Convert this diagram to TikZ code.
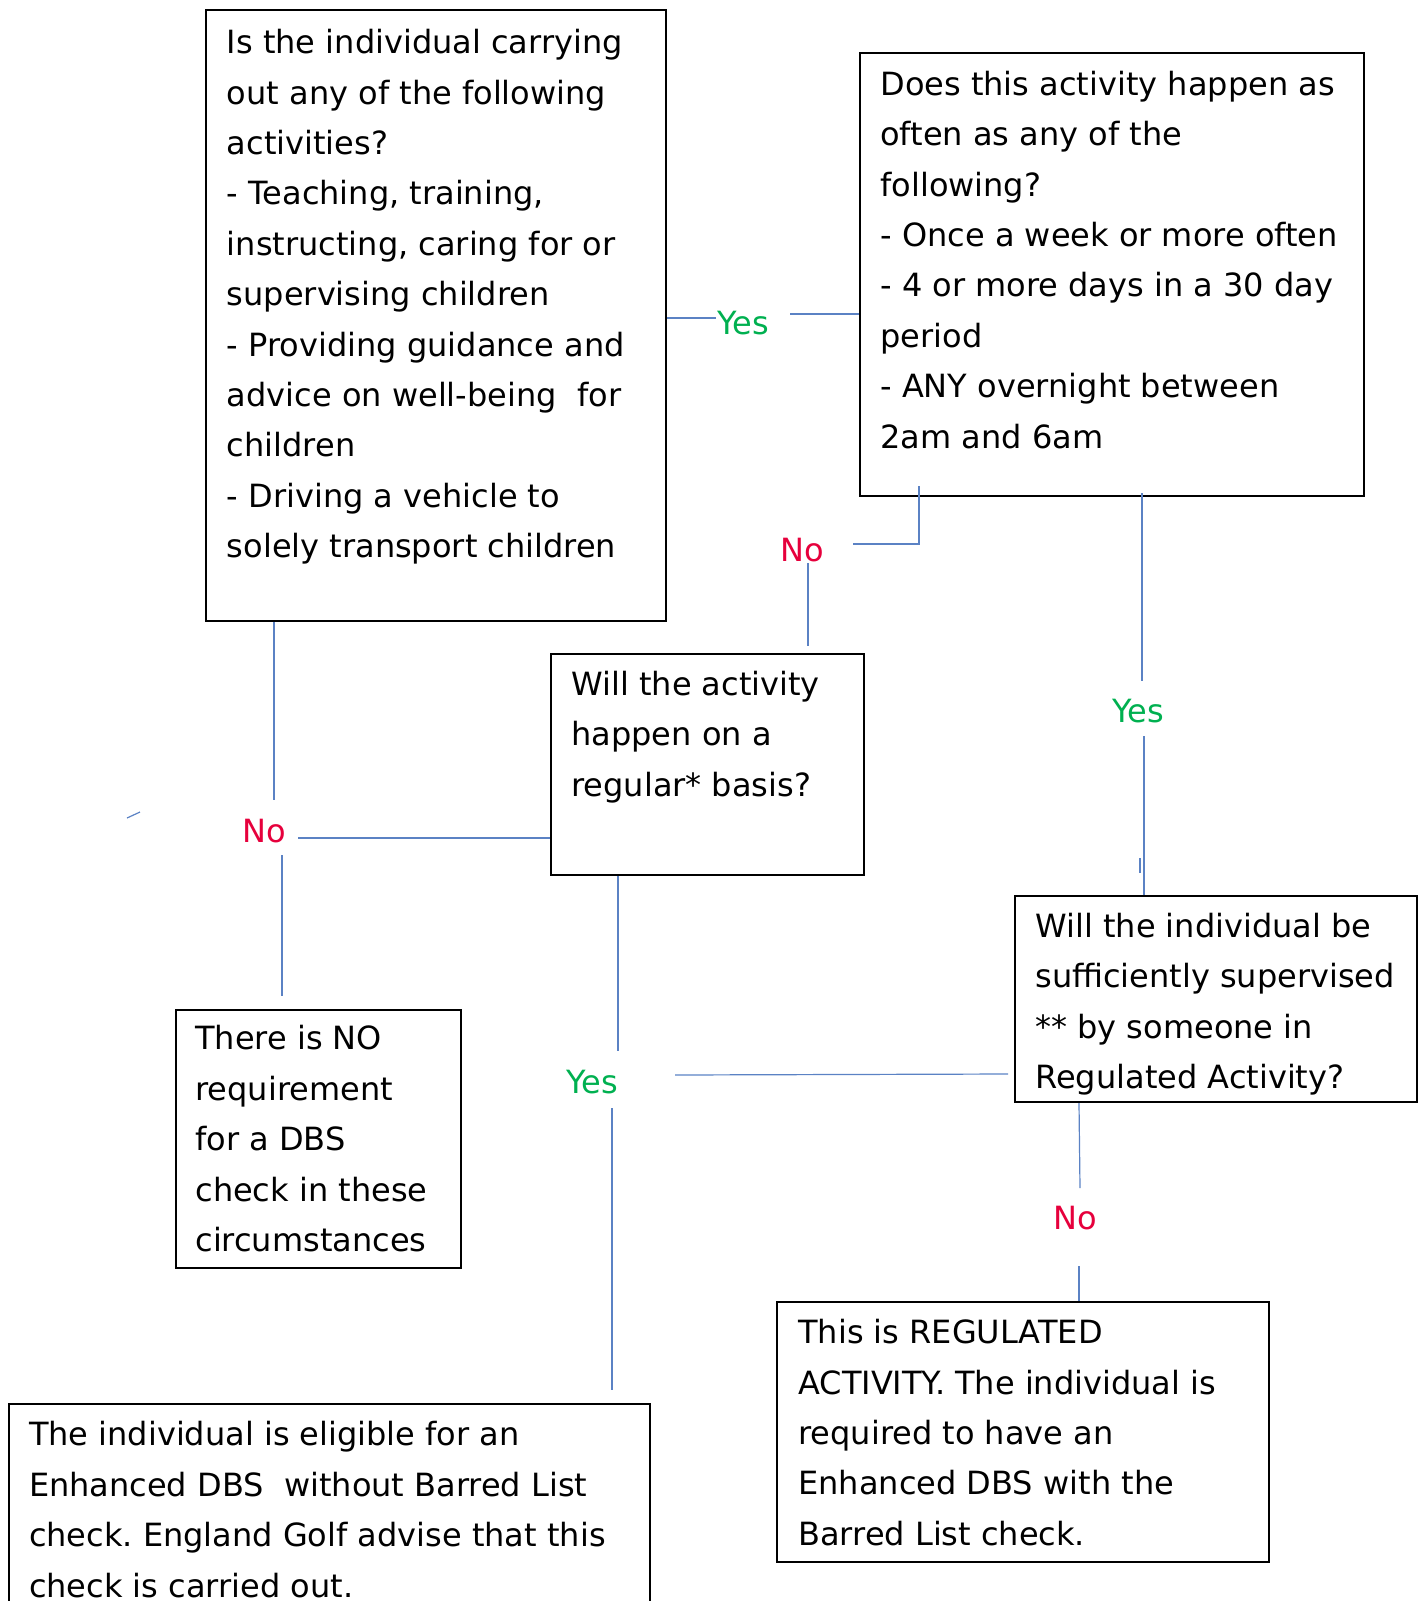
\documentclass[tikz,border=0pt]{standalone}
\usepackage{fontspec}
\setmainfont{DejaVu Sans}
\frenchspacing
\usetikzlibrary{fit}
\definecolor{conn}{RGB}{91,130,196}
\definecolor{yesgreen}{RGB}{0,176,80}
\definecolor{nored}{RGB}{230,0,60}
\tikzset{
  boxframe/.style={draw=black, line width=1pt, inner sep=0pt, rectangle},
  boxtext/.style={anchor=north west, inner sep=0pt, align=left,
    font=\fontsize{16}{25.2}\selectfont},
  yeslabel/.style={text=yesgreen, inner sep=0pt, font=\fontsize{16}{18}\selectfont},
  nolabel/.style={text=nored, inner sep=0pt, font=\fontsize{16}{18}\selectfont},
  connline/.style={draw=conn, line width=0.6pt}
}
\begin{document}
\begin{tikzpicture}[x=0.5pt,y=-0.5pt]
\useasboundingbox (0,0) rectangle (1424,1601);
% boxes
\node[boxframe, fit={(206,10) (666,621)}] (b1) {};
\node[boxframe, fit={(860,53) (1364,496)}] (b2) {};
\node[boxframe, fit={(551,654) (864,875)}] (b3) {};
\node[boxframe, fit={(1015,896) (1417,1102)}] (b4) {};
\node[boxframe, fit={(176,1010) (461,1268)}] (b5) {};
\node[boxframe, fit={(9,1404) (650,1606)}] (b6) {};
\node[boxframe, fit={(777,1302) (1269,1562)}] (b7) {};
% texts
\node[boxtext] (t1) at (226.5,18) {\strut Is the individual carrying\\out any of the following\\activities?\\- Teaching, training,\\instructing, caring for or\\supervising children\\- Providing guidance and\\advice on well-being\ \ for\\children\\- Driving a vehicle to\\solely transport children};
\node[boxtext] (t2) at (880,59.7) {\strut Does this activity happen as\\often as any of the\\following?\\- Once a week or more often\\- 4 or more days in a 30 day\\period\\- ANY overnight between\\2am and 6am};
\node[boxtext] (t3) at (571,659.7) {\strut Will the activity\\happen on a\\regular* basis?};
\node[boxtext] (t4) at (1035,901.7) {\strut Will the individual be\\sufficiently supervised\\** by someone in\\Regulated Activity?};
\node[boxtext] (t5) at (195,1014.2) {\strut There is NO\\requirement\\for a DBS\\check in these\\circumstances};
\node[boxtext] (t6) at (28.6,1410.2) {\strut The individual is eligible for an\\Enhanced DBS\ \ without Barred List\\check. England Golf advise that this\\check is carried out.};
\node[boxtext] (t7) at (798,1308) {\strut This is REGULATED\\ACTIVITY. The individual is\\required to have an\\Enhanced DBS with the\\Barred List check.};
% labels
\node[yeslabel] (yes1) at (743,323) {Yes};
\node[nolabel] (no1) at (802,550) {No};
\node[nolabel] (no2) at (264,831) {No};
\node[yeslabel] (yes2) at (1138,711) {Yes};
\node[yeslabel] (yes3) at (592,1082) {Yes};
\node[nolabel] (no3) at (1075,1218) {No};
% connector coordinates
\coordinate (y1a) at (716,318);
\coordinate (y1b) at (790,314);
\coordinate (n1a) at (919,486);
\coordinate (n1b) at (919,544);
\coordinate (n1c) at (853,544);
\coordinate (n1d) at (808,563);
\coordinate (n1e) at (808,646);
\coordinate (y2a) at (1142,493);
\coordinate (y2b) at (1142,681);
\coordinate (y2c) at (1144,736);
\coordinate (tk1) at (1140,858);
\coordinate (tk2) at (1140,873);
\coordinate (n2a) at (274,622);
\coordinate (n2b) at (274,800);
\coordinate (n2c) at (298,838);
\coordinate (n2d) at (282,855);
\coordinate (n2e) at (282,996);
\coordinate (st1) at (127,818);
\coordinate (st2) at (140,812);
\coordinate (y3a) at (618,876);
\coordinate (y3b) at (618,1051);
\coordinate (y3c) at (612,1108);
\coordinate (y3d) at (612,1390);
\coordinate (y3e) at (675,1075);
\coordinate (y3f) at (1008,1074);
\coordinate (n3a) at (1079,1103);
\coordinate (n3b) at (1080,1188);
\coordinate (n3c) at (1079,1266);
% connectors
\draw[connline] (b1.east |- y1a) -- (y1a);
\draw[connline] (y1b) -- (b2.west |- y1b);
\draw[connline] (n1a) -- (n1b) -- (n1c);
\draw[connline] (n1d) -- (n1e);
\draw[connline] (y2a) -- (y2b);
\draw[connline] (y2c) -- (b4.north -| y2c);
\draw[connline] (tk1) -- (tk2);
\draw[connline] (n2a) -- (n2b);
\draw[connline] (n2c) -- (b3.west |- n2c);
\draw[connline] (n2d) -- (n2e);
\draw[connline] (st1) -- (st2);
\draw[connline] (y3a) -- (y3b);
\draw[connline] (y3c) -- (y3d);
\draw[connline] (y3e) -- (y3f);
\draw[connline] (n3a) -- (n3b);
\draw[connline] (n3c) -- (b7.north -| n3c);
\end{tikzpicture}
\end{document}
